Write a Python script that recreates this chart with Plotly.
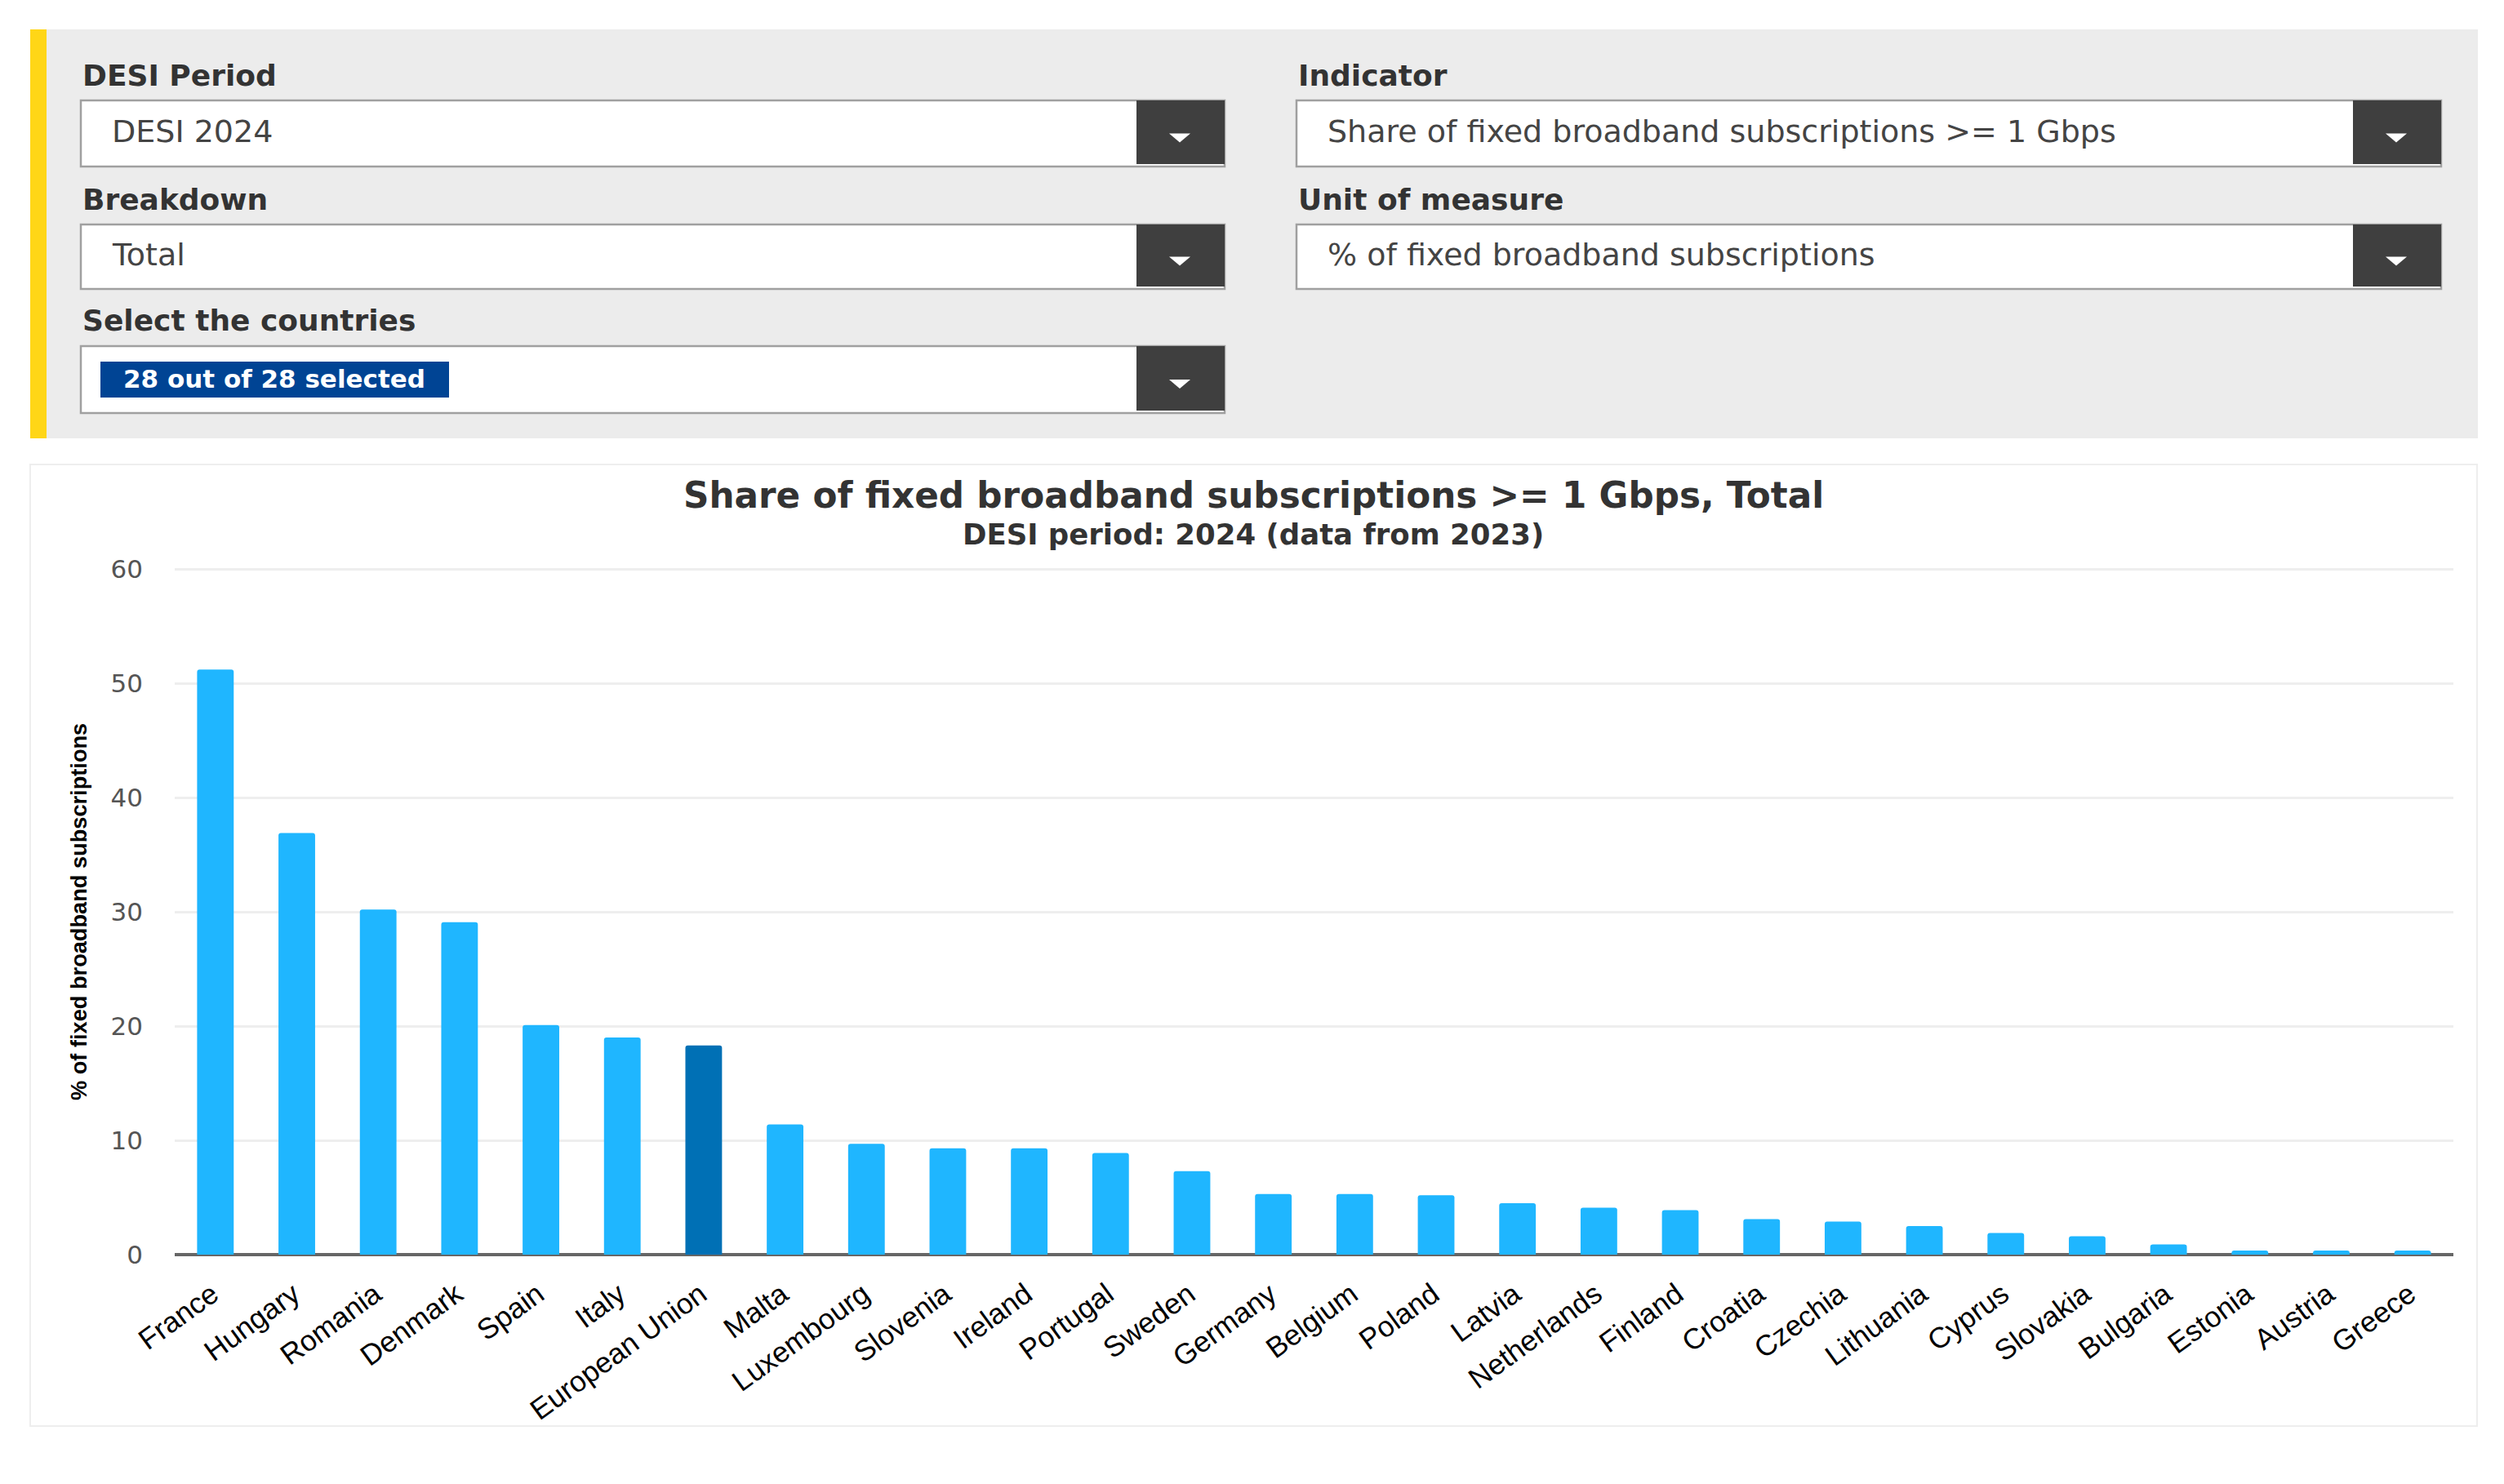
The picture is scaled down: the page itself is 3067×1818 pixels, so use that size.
import plotly.graph_objects as go

countries = ["France", "Hungary", "Romania", "Denmark", "Spain", "Italy", "European Union", "Malta",
             "Luxembourg", "Slovenia", "Ireland", "Portugal", "Sweden", "Germany", "Belgium", "Poland",
             "Latvia", "Netherlands", "Finland", "Croatia", "Czechia", "Lithuania", "Cyprus", "Slovakia",
             "Bulgaria", "Estonia", "Austria", "Greece"]
values = [51.2, 36.9, 30.2, 29.1, 20.1, 19.0, 18.3, 11.4,
          9.7, 9.3, 9.3, 8.9, 7.3, 5.3, 5.3, 5.2,
          4.5, 4.1, 3.9, 3.1, 2.9, 2.5, 1.9, 1.6,
          0.9, 0.35, 0.35, 0.35]
y_ticks = [0, 10, 20, 30, 40, 50, 60]

title_text = "Share of fixed broadband subscriptions >= 1 Gbps, Total"
subtitle_text = "DESI period: 2024 (data from 2023)"
y_title = "% of fixed broadband subscriptions"

# filter panel: (label, value, left, right, top, bottom)
filters = [
    ("DESI Period", "DESI 2024", 99, 1500, 123, 204),
    ("Breakdown", "Total", 99, 1500, 275, 354),
    ("Select the countries", "", 99, 1500, 424, 506),
    ("Indicator", "Share of fixed broadband subscriptions >= 1 Gbps", 1588, 2990, 123, 204),
    ("Unit of measure", "% of fixed broadband subscriptions", 1588, 2990, 275, 354),
]
tag_text = "28 out of 28 selected"

W, H = 3067, 1818
PLOT_L, PLOT_R, PLOT_T, PLOT_B = 214, 3005, 695, 1537
FONT = "Liberation Sans"
WIDE = "DejaVu Sans"  # the panel text in the picture is stretched sideways

BAR = "#1fb6ff"
BAR_EU = "#0070b5"


def px(x):
    return (x - PLOT_L) / (PLOT_R - PLOT_L)


def py(y):
    return (PLOT_B - y) / (PLOT_B - PLOT_T)


def box(x0, y0, x1, y1, fill, line=None, width=0):
    return dict(type="rect", xref="paper", yref="paper", x0=px(x0), x1=px(x1), y0=py(y0), y1=py(y1),
                fillcolor=fill, line=dict(color=line, width=width) if line else dict(width=0),
                layer="below")


def label(x, y, text, size, color="#333333", bold=False, anchor="left", family=WIDE):
    return dict(xref="paper", yref="paper", x=px(x), y=py(y), text=f"<b>{text}</b>" if bold else text,
                showarrow=False, xanchor=anchor, yanchor="middle", align=anchor,
                font=dict(family=family, size=size, color=color))


shapes = [
    box(37, 36, 3035, 537, "#ececec"),
    box(37, 36, 57, 537, "#ffd617"),
    box(37, 569, 3034, 1747, "#ffffff", "#eeeeee", 2),
]
annotations = []

for name, val, x0, x1, y0, y1 in filters:
    shapes.append(box(x0, y0, x1, y1, "#ffffff", "#a0a0a0", 2.5))
    shapes.append(box(x1 - 108, y0, x1, y1 - 3, "#3f3f3f"))
    cx, cy = x1 - 55, (y0 + y1) / 2 + 5
    shapes.append(dict(type="path", xref="paper", yref="paper", fillcolor="#ffffff", line=dict(width=0),
                       path=f"M {px(cx - 13)} {py(cy - 5)} L {px(cx + 13)} {py(cy - 5)} L {px(cx)} {py(cy + 6)} Z"))
    annotations.append(label(x0, y0 - 31, name, 36, bold=True))
    if val:
        annotations.append(label(x0 + 36, (y0 + y1) / 2 - 3, val, 38, color="#444444"))

shapes.append(box(123, 443, 550, 487, "#004494"))
shapes[-1]["layer"] = "above"
annotations.append(label(336, 464, tag_text, 31, color="#ffffff", bold=True, anchor="center"))

annotations.append(label(1535, 606, title_text, 43.7, color="#333333", bold=True, anchor="center"))
annotations.append(label(1535, 654, subtitle_text, 35.5, color="#333333", bold=True, anchor="center"))
annotations.append(label(96, 1117, f"{y_title}", 27.2, color="#000000", bold=True, anchor="center", family=FONT))
annotations[-1]["textangle"] = -90

colors = [BAR_EU if c == "European Union" else BAR for c in countries]

fig = go.Figure(go.Bar(x=countries, y=values, marker=dict(color=colors, line=dict(width=0), cornerradius=3),
                       width=0.45))
fig.update_layout(
    width=W, height=H, autosize=False,
    margin=dict(l=PLOT_L, r=W - PLOT_R, t=PLOT_T, b=H - PLOT_B, pad=0),
    paper_bgcolor="#ffffff", plot_bgcolor="#ffffff",
    showlegend=False, shapes=shapes, annotations=annotations,
    font=dict(family=FONT),
)
fig.update_xaxes(range=[-0.5, len(countries) - 0.5], tickangle=-36, showgrid=False,
                 tickfont=dict(family=FONT, size=35.5, color="#000000"),
                 showline=False, zeroline=False, ticks="", ticklabelstandoff=20, ticklabelshift=-4,
                 automargin=False)
# plotly drops gridlines within 1px of the range end, so leave a little room above 60
fig.update_yaxes(range=[0, 60.15], tickvals=y_ticks, gridcolor="#eeeeee", gridwidth=2.5,
                 zeroline=True, zerolinecolor="#666666", zerolinewidth=4,
                 tickfont=dict(family=WIDE, size=31, color="#555555"),
                 ticks="", ticklabelstandoff=38, automargin=False, showline=False)

fig.write_html("out.html", config=dict(displayModeBar=False),
               post_script="document.body.style.margin='0';document.body.style.overflow='hidden';")
